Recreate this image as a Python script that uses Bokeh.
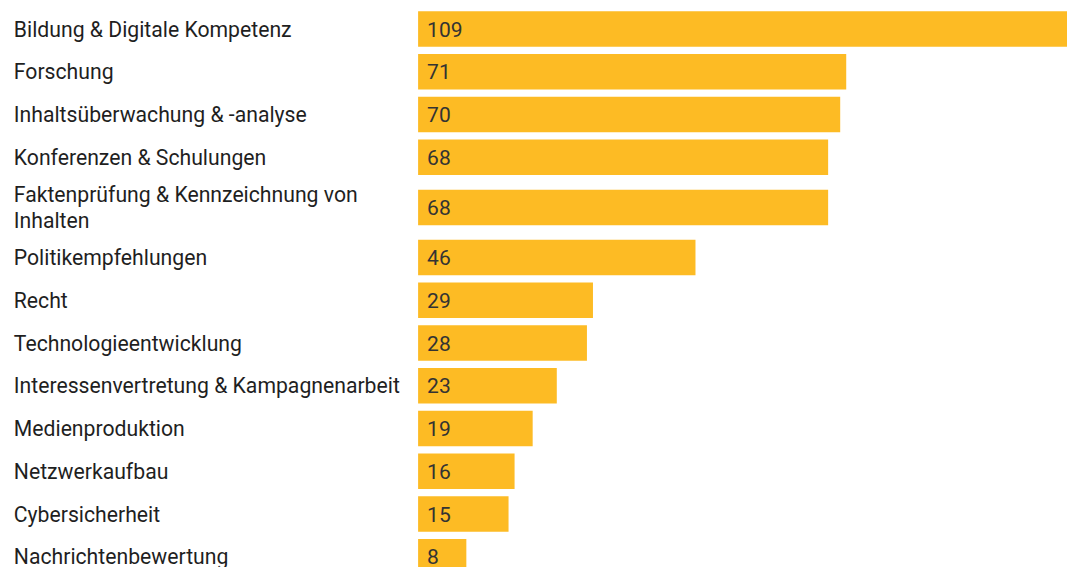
from bokeh.plotting import figure
from bokeh.models import Range1d, ColumnDataSource
from bokeh.core.properties import value
from bokeh.embed import file_html
from bokeh.resources import INLINE

categories = [
    "Bildung & Digitale Kompetenz",
    "Forschung",
    "Inhaltsüberwachung & -analyse",
    "Konferenzen & Schulungen",
    "Faktenprüfung & Kennzeichnung von\nInhalten",
    "Politikempfehlungen",
    "Recht",
    "Technologieentwicklung",
    "Interessenvertretung & Kampagnenarbeit",
    "Medienproduktion",
    "Netzwerkaufbau",
    "Cybersicherheit",
    "Nachrichtenbewertung",
]
counts = [109, 71, 70, 68, 68, 46, 29, 28, 23, 19, 16, 15, 8]

# layout (pixels)
W, H = 1067, 567
PX_PER_UNIT = 6.03
BAR_X0 = 417.6          # bar origin, px from frame left
LABEL_X = 13.3          # label left, px from frame left
ROW = 42.75
EXTRA_LINE = 14.75
FIRST_TOP = 7.2
BAR_H = 35.5

# row centers from label line counts
centers = []
top = FIRST_TOP
for c in categories:
    h = ROW + EXTRA_LINE * (c.count("\n"))
    centers.append(top + h / 2)
    top += h

x0 = -BAR_X0 / PX_PER_UNIT
x1 = (W - BAR_X0) / PX_PER_UNIT

src = ColumnDataSource(dict(
    cat=categories,
    val=counts,
    txt=[str(v) for v in counts],
    y=centers,
    lx=[x0 + LABEL_X / PX_PER_UNIT] * len(counts),
    vx=[9 / PX_PER_UNIT] * len(counts),
))

p = figure(width=W, height=H, output_backend="svg", toolbar_location=None,
           x_range=Range1d(x0, x1), y_range=Range1d(H, 0),
           min_border=0, min_border_left=0, min_border_right=0,
           min_border_top=0, min_border_bottom=0)
p.axis.visible = False
p.grid.visible = False
p.outline_line_color = None
p.background_fill_color = "white"
p.border_fill_color = "white"

p.hbar(y="y", left=0, right="val", height=BAR_H, source=src,
       fill_color="#FDBB24", line_color=None)

p.text(x="lx", y="y", text="cat", source=src,
       text_font=value("Roboto"), text_font_size="21.2px",
       text_color="#1f1f1f", text_align="left", text_baseline="middle",
       text_line_height=1.06)

p.text(x="vx", y="y", text="txt", source=src,
       text_font=value("Roboto"), text_font_size="21px",
       text_color="#333333", text_align="left", text_baseline="middle")

open("out.html", "w").write(file_html(p, INLINE))
